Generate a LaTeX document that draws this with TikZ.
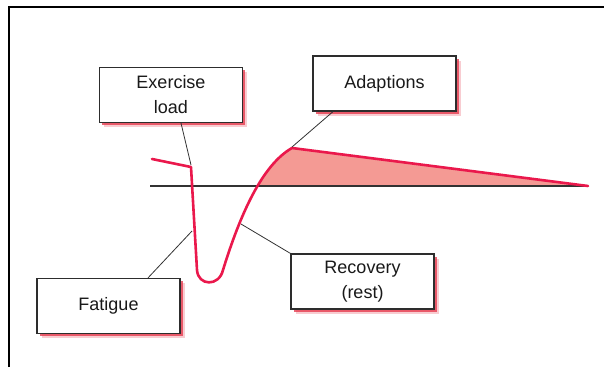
\documentclass[tikz,border=0pt]{standalone}
\usepackage{fontspec}
\setmainfont{Liberation Sans}
\usetikzlibrary{shadows}
\definecolor{curvered}{RGB}{234,24,76}
\definecolor{fillsalmon}{RGB}{244,154,148}
\definecolor{shadowred}{RGB}{228,50,70}
\definecolor{boxline}{RGB}{45,45,45}
\definecolor{connline}{RGB}{50,50,50}
\definecolor{textcol}{RGB}{25,25,25}
\begin{document}
\begin{tikzpicture}[x=1pt,y=-1pt,
  labelbox/.style={draw=boxline, line width=1.2pt, fill=white,
    minimum width=143pt, minimum height=55pt, inner sep=0pt,
    align=center, text=textcol,
    font=\fontsize{18}{25}\selectfont,
    general shadow={fill=shadowred, opacity=0.25, shadow xshift=4.5pt, shadow yshift=-4.5pt},
    general shadow={fill=shadowred, opacity=0.75, shadow xshift=2.5pt, shadow yshift=-2.5pt}},
  connector/.style={draw=connline, line width=0.8pt},
  redcurve/.style={draw=curvered, line width=2.6pt, line join=round, line cap=round}]
\useasboundingbox (0,0) rectangle (604,367);
% frame
\draw[line width=2pt] (9,367) -- (9,7) -- (604,7);
% fill under adaptation
\begin{scope}
\clip (0,0) rectangle (604,186);
\fill[fillsalmon] (223,270) .. controls (240,215) and (262,165) .. (292,148) -- (588,186) -- (588,300) -- (223,300) -- cycle;
\end{scope}
% baseline
\coordinate (b0) at (150,186);
\coordinate (b1) at (588,186);
\draw[draw=connline, line width=1.4pt] (b0) -- (b1);
% red curve
\coordinate (r0) at (152,159);
\coordinate (rload) at (191,167);
\coordinate (rpeak) at (292,148);
\coordinate (rend) at (588,186);
\draw[redcurve] (r0) -- (rload) -- (197,270) .. controls (198,286) and (219,287) .. (223,270) .. controls (240,215) and (262,165) .. (rpeak) -- (rend);
% boxes
\node[labelbox] (ex) at (171,95) {Exercise\\load};
\node[labelbox] (ad) at (384.5,83.5) {Adaptions};
\node[labelbox] (fa) at (108.5,306) {Fatigue};
\node[labelbox] (re) at (362.5,281.5) {Recovery\\(rest)};
% connector end points
\coordinate (cex) at (191,165);
\coordinate (cad) at (292,147);
\coordinate (cfa) at (192,231);
\coordinate (cre) at (241,224);
\draw[connector] ([xshift=10pt]ex.south) -- (cex);
\draw[connector] ([xshift=-51.5pt]ad.south) -- (cad);
\draw[connector] ([xshift=39.5pt]fa.north) -- (cfa);
\draw[connector] (re.north west) -- (cre);
\end{tikzpicture}
\end{document}
